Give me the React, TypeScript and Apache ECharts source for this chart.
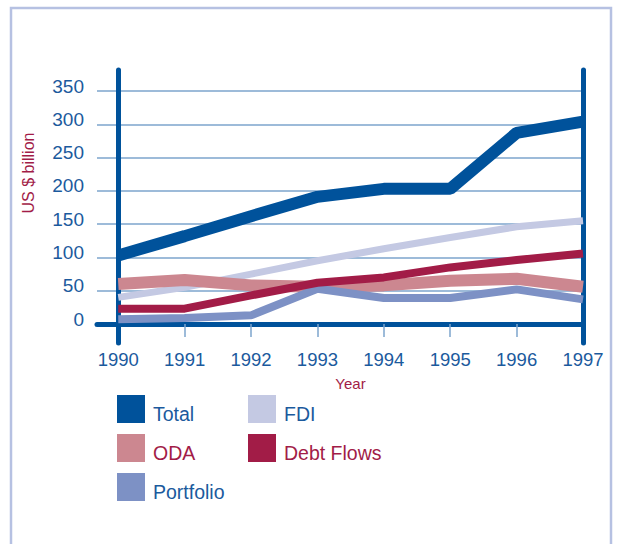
import React, { useEffect, useRef } from "react";
import * as echarts from "echarts";

const years = ["1990", "1991", "1992", "1993", "1994", "1995", "1996", "1997"];
const total = [103, 132, 162, 191, 203, 203, 287, 304];
const fdi = [40, 55, 75, 95, 113, 130, 146, 155];
const oda = [60, 66, 58, 56, 58, 65, 68, 56];
const debtFlows = [23, 23, 43, 62, 70, 85, 96, 106];
const portfolio = [7, 9, 13, 53, 39, 39, 52, 37];
const yMin = 0;
const yMax = 350;
const yInterval = 50;

const BLUE = "#00529b";
const TEXT_BLUE = "#1b5a9d";
const CRIMSON = "#a21c47";
const GRID = "#7da5cc";
const FONT = "Liberation Sans, Arial, sans-serif";

const pairs = (arr: number[]) => arr.map((v, i) => [i, v]);

export default function App() {
  const ref = useRef<HTMLDivElement>(null);
  useEffect(() => {
    if (!ref.current) return;
    const chart = echarts.init(ref.current, null, { renderer: "svg" });
    const idx = years.map((_, i) => i);
    const legendBase = {
      orient: "vertical",
      itemWidth: 28,
      itemHeight: 28,
      itemGap: 10,
      padding: 0,
      icon: "rect",
      selectedMode: false,
      itemStyle: { borderWidth: 0 },
      formatter: "{t|{name}}",
      textStyle: {
        fontSize: 19.5,
        fontFamily: FONT,
        rich: { t: { fontSize: 19.5, fontFamily: FONT, padding: [10, 0, 0, 3] } },
      },
    };
    chart.setOption({
      animation: false,
      backgroundColor: "#ffffff",
      textStyle: { fontFamily: FONT },
      grid: [
        { left: 97, right: 36, top: 91, bottom: 220 },
        { left: 118, right: 36, top: 70, bottom: 201 },
      ],
      xAxis: [
        {
          type: "value",
          gridIndex: 0,
          min: -0.32,
          max: years.length - 1,
          axisLine: { show: true, onZero: false, lineStyle: { color: BLUE, width: 5 } },
          axisTick: {
            show: true,
            customValues: idx.slice(1, -1),
            length: 13,
            inside: false,
            lineStyle: { color: GRID, width: 1.5 },
          },
          axisLabel: {
            customValues: idx,
            formatter: (v: number) => years[Math.round(v)],
            color: TEXT_BLUE,
            fontSize: 18.5,
            fontFamily: FONT,
            margin: 26,
          },
          splitLine: { show: false },
        },
        {
          type: "value",
          gridIndex: 1,
          min: 0,
          max: years.length - 1,
          axisLine: { show: false },
          axisTick: { show: false },
          axisLabel: { show: false },
          splitLine: { show: false },
          name: "Year",
          nameLocation: "middle",
          nameGap: 33,
          nameTextStyle: { color: CRIMSON, fontSize: 15, fontFamily: FONT },
        },
      ],
      yAxis: [
        {
          type: "value",
          gridIndex: 0,
          min: yMin,
          max: yMax,
          interval: yInterval,
          axisLine: { show: false },
          axisTick: { show: false },
          axisLabel: {
            color: TEXT_BLUE,
            fontSize: 19,
            fontFamily: FONT,
            margin: 13,
            verticalAlign: "bottom",
            lineHeight: 10,
          },
          splitLine: { show: true, lineStyle: { color: GRID, width: 1.5 } },
        },
        {
          type: "value",
          gridIndex: 1,
          position: "left",
          min: 0,
          max: 1,
          axisLine: { show: true, onZero: false, lineStyle: { color: BLUE, width: 5 } },
          axisTick: { show: false },
          axisLabel: { show: false },
          splitLine: { show: false },
        },
        {
          type: "value",
          gridIndex: 1,
          position: "right",
          min: 0,
          max: 1,
          axisLine: { show: true, onZero: false, lineStyle: { color: BLUE, width: 5 } },
          axisTick: { show: false },
          axisLabel: { show: false },
          splitLine: { show: false },
        },
      ],
      legend: [
        {
          ...legendBase,
          left: 117,
          top: 395,
          data: [
            { name: "Total", textStyle: { color: TEXT_BLUE } },
            { name: "ODA", textStyle: { color: CRIMSON } },
            { name: "Portfolio", textStyle: { color: TEXT_BLUE } },
          ],
        },
        {
          ...legendBase,
          left: 248,
          top: 395,
          data: [
            { name: "FDI", textStyle: { color: TEXT_BLUE } },
            { name: "Debt Flows", textStyle: { color: CRIMSON } },
          ],
        },
      ],
      graphic: [
        {
          type: "rect",
          shape: { x: 11, y: 8, width: 600, height: 560 },
          style: { fill: "none", stroke: "#b6c1e2", lineWidth: 2.5 },
          silent: true,
        },
        {
          type: "text",
          x: 28,
          y: 173,
          rotation: Math.PI / 2,
          style: {
            text: "US $ billion",
            fill: CRIMSON,
            fontSize: 16,
            fontFamily: FONT,
            textAlign: "center",
            textVerticalAlign: "middle",
          },
          silent: true,
        },
      ],
      series: [
        {
          name: "FDI",
          type: "line",
          xAxisIndex: 0,
          yAxisIndex: 0,
          data: pairs(fdi),
          color: "#c4c9e3",
          lineStyle: { width: 7 },
          symbol: "none",
        },
        {
          name: "ODA",
          type: "line",
          xAxisIndex: 0,
          yAxisIndex: 0,
          data: pairs(oda),
          color: "#cc8790",
          lineStyle: { width: 12 },
          symbol: "none",
        },
        {
          name: "Portfolio",
          type: "line",
          xAxisIndex: 0,
          yAxisIndex: 0,
          data: pairs(portfolio),
          color: "#7d91c5",
          lineStyle: { width: 8 },
          symbol: "none",
        },
        {
          name: "Debt Flows",
          type: "line",
          xAxisIndex: 0,
          yAxisIndex: 0,
          data: pairs(debtFlows),
          color: CRIMSON,
          lineStyle: { width: 8 },
          symbol: "none",
        },
        {
          name: "Total",
          type: "line",
          xAxisIndex: 0,
          yAxisIndex: 0,
          data: pairs(total),
          color: BLUE,
          lineStyle: { width: 12 },
          symbol: "none",
        },
      ],
    });
    return () => chart.dispose();
  }, []);
  return (
    <div
      ref={ref}
      style={{ position: "fixed", left: 0, top: 0, width: 619, height: 544 }}
    />
  );
}
